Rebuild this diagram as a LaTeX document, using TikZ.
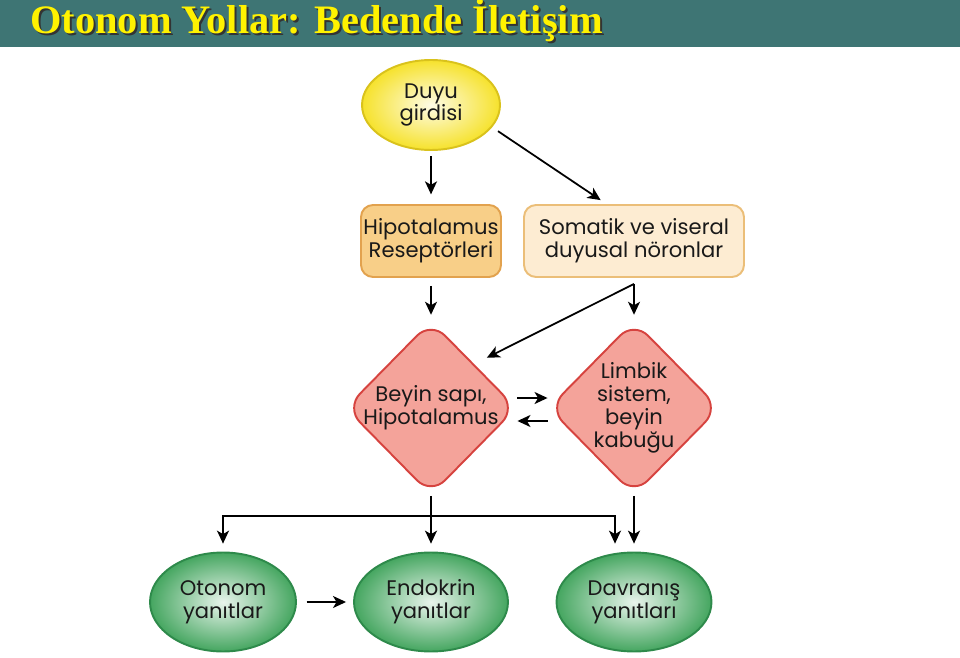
\documentclass[tikz,border=0pt]{standalone}
\usepackage{fontspec}
\setmainfont{Poppins}
\newfontfamily\titlefont{Liberation Serif}
\usetikzlibrary{arrows.meta,positioning,shapes.geometric}

\definecolor{barteal}{HTML}{3E7574}
\definecolor{yellowfill}{HTML}{F6E22C}
\definecolor{yellowline}{HTML}{D9C21C}
\definecolor{orangefill}{HTML}{F8CF88}
\definecolor{orangeline}{HTML}{E2A24E}
\definecolor{creamfill}{HTML}{FDECD2}
\definecolor{creamline}{HTML}{EBBE78}
\definecolor{redfill}{HTML}{F4A39A}
\definecolor{redline}{HTML}{D6433F}
\definecolor{greenfill}{HTML}{45A660}
\definecolor{greenline}{HTML}{2E8A4B}

\begin{document}
\begin{tikzpicture}[
    x=0.02cm, y=-0.02cm,
    every node/.style={font=\fontsize{12}{13}\selectfont, align=center, text=black!90},
    oval/.style={ellipse, draw=#1line, line width=1.1pt, inner color=white!88!#1fill, outer color=#1fill, minimum width=2.76cm, minimum height=1.8cm},
    rbox/.style={draw=#1line, fill=#1fill, line width=1.1pt, rounded corners=0.24cm, inner sep=0pt, minimum width=2.8cm, minimum height=1.44cm},
    diam/.style={diamond, draw=redline, fill=redfill, line width=1.1pt, rounded corners=0.4cm, inner sep=-8pt, minimum width=3.42cm, minimum height=3.48cm},
    headline/.style={anchor=base west, inner sep=0pt, font=\titlefont\bfseries\fontsize{23}{23}\selectfont},
    link/.style={-{Stealth[length=2.6mm, width=2.4mm, inset=0.7mm]}, line width=1pt}
]
\useasboundingbox (0,0) rectangle (960,658);
\fill[barteal] (0,0) rectangle (960,47);
\node[headline, text=black!80] (titleshadow) at (32,36) {Otonom Yollar: Bedende İletişim};
\node[headline, text=yellow] (title) at (30,34) {Otonom Yollar: Bedende İletişim};

% top row
\node[oval=yellow] (duyu) at (431,105) {Duyu\\girdisi};
\node[rbox=orange] (hipo) at (431,241) {Hipotalamus\\Reseptörleri};
\node[rbox=cream, minimum width=4.4cm] (somatik) at (634,241) {Somatik ve viseral\\duyusal nöronlar};

% centres
\node[diam] (beyin) at (431,408) {Beyin sapı,\\Hipotalamus};
\node[diam] (limbik) at (634,408) {Limbik\\sistem,\\beyin\\kabuğu};

% responses
\node[oval=green, minimum width=2.92cm, minimum height=1.98cm] (otonom) at (223,602) {Otonom\\yanıtlar};
\node[oval=green, minimum width=3.08cm, minimum height=1.98cm] (endokrin) at (431,602) {Endokrin\\yanıtlar};
\node[oval=green, minimum width=3.1cm, minimum height=1.98cm] (davranis) at (634,602) {Davranış\\yanıtları};

\coordinate (fork) at ([yshift=-0.12cm]somatik.south);
\coordinate (tee) at ([yshift=-0.4cm]beyin.south);

\draw[link, shorten <=3pt, shorten >=5.5pt] (duyu) -- (hipo);
\draw[link, shorten <=4pt, shorten >=4pt] (duyu.-20) -- ([xshift=-0.55cm]somatik.north);
\draw[link, shorten <=4.5pt, shorten >=3pt] (hipo) -- (beyin.north);
\draw[link, shorten >=3pt] (fork) -- (limbik.north);
\draw[link, shorten >=8pt] (fork) -- (beyin.north east);
\draw[link] ([yshift=0.2cm]beyin.east) -- ([yshift=0.2cm]limbik.west);
\draw[link] ([yshift=-0.26cm]limbik.west) -- ([yshift=-0.26cm]beyin.east);
\draw[link, shorten >=4.5pt] (beyin.south) -- (endokrin.north);
\draw[link, shorten >=4.5pt] (tee) -| (otonom.north);
\draw[link, shorten >=4.5pt] (tee) -| ([xshift=-0.38cm]davranis.north);
\draw[link, shorten >=4.5pt] (limbik.south) -- (davranis.north);
\draw[link, shorten <=5.5pt, shorten >=4pt] (otonom) -- (endokrin);
\end{tikzpicture}
\end{document}
